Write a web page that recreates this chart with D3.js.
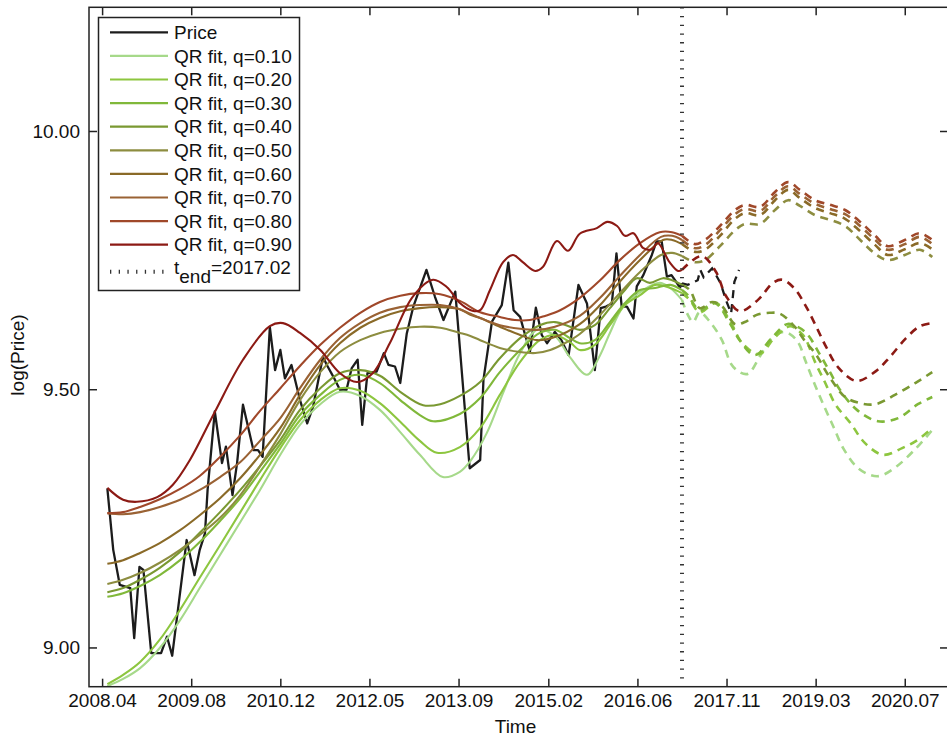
<!DOCTYPE html>
<html>
<head>
<meta charset="utf-8">
<script src="https://cdn.jsdelivr.net/npm/d3@7"></script>
<style>
  html, body { margin: 0; padding: 0; background: #fff; }
  svg { display: block; font-family: "Liberation Sans", Arial, Helvetica, sans-serif; }
</style>
</head>
<body>
<svg id="chart" width="947" height="740"></svg>
<script>
// ---- data (time in decimal years, values in log(Price)) ----
const tEnd = 2017.10;
const tEndLabel = "2017.02";

const xTickValues = [2008.25, 2009.61, 2010.97, 2012.33, 2013.69, 2015.06, 2016.42, 2017.78, 2019.14, 2020.50];
const xTickLabels = ["2008.04", "2009.08", "2010.12", "2012.05", "2013.09", "2015.02", "2016.06", "2017.11", "2019.03", "2020.07"];
const yTickValues = [9.00, 9.50, 10.00];

const priceSeries = [
  [2008.33,9.308],[2008.42,9.189],[2008.52,9.121],[2008.68,9.115],[2008.74,9.018],[2008.82,9.156],
  [2008.88,9.150],[2009.00,8.989],[2009.15,8.989],[2009.24,9.021],[2009.32,8.984],[2009.54,9.208],
  [2009.66,9.140],[2009.74,9.189],[2009.82,9.221],[2009.86,9.305],[2009.97,9.457],[2010.08,9.357],
  [2010.14,9.389],[2010.24,9.295],[2010.31,9.357],[2010.40,9.470],[2010.56,9.382],[2010.63,9.382],
  [2010.70,9.369],[2010.81,9.620],[2010.89,9.537],[2010.97,9.576],[2011.04,9.521],[2011.14,9.547],
  [2011.27,9.479],[2011.38,9.434],[2011.47,9.466],[2011.62,9.563],[2011.68,9.547],[2011.78,9.524],
  [2011.88,9.499],[2011.98,9.499],[2012.06,9.541],[2012.15,9.557],[2012.22,9.431],[2012.30,9.531],
  [2012.44,9.534],[2012.55,9.570],[2012.62,9.547],[2012.72,9.544],[2012.80,9.512],[2012.90,9.608],
  [2013.00,9.660],[2013.20,9.731],[2013.33,9.679],[2013.46,9.634],[2013.64,9.689],[2013.86,9.347],
  [2014.02,9.363],[2014.07,9.518],[2014.20,9.631],[2014.35,9.663],[2014.45,9.745],[2014.53,9.653],
  [2014.63,9.640],[2014.70,9.608],[2014.78,9.573],[2014.87,9.658],[2014.96,9.605],[2015.04,9.589],
  [2015.16,9.611],[2015.26,9.595],[2015.37,9.566],[2015.52,9.702],[2015.65,9.666],[2015.77,9.537],
  [2015.86,9.657],[2015.94,9.660],[2016.03,9.666],[2016.10,9.763],[2016.18,9.660],[2016.26,9.660],
  [2016.36,9.637],[2016.41,9.699],[2016.51,9.721],[2016.64,9.760],[2016.71,9.786],[2016.79,9.786],
  [2016.87,9.718],[2016.94,9.721],[2017.07,9.697],[2017.10,9.705],
  [2017.19,9.702],[2017.34,9.711],[2017.38,9.731],[2017.43,9.717],[2017.56,9.734],[2017.62,9.721],
  [2017.69,9.705],[2017.77,9.673],[2017.85,9.647],[2017.90,9.708],[2017.97,9.731]
];

const fitQ10 = [
  [2008.33,8.925],[2008.57,8.939],[2008.83,8.960],[2009.13,8.999],[2009.44,9.053],[2009.74,9.115],
  [2010.05,9.179],[2010.36,9.243],[2010.66,9.305],[2010.97,9.373],[2011.27,9.431],[2011.58,9.471],
  [2011.88,9.495],[2012.19,9.487],[2012.49,9.460],[2012.80,9.417],[2013.10,9.373],[2013.45,9.330],
  [2013.71,9.340],[2013.87,9.361],[2014.12,9.415],[2014.37,9.493],[2014.63,9.570],[2014.89,9.615],
  [2015.16,9.603],[2015.39,9.562],[2015.65,9.528],[2015.85,9.566],[2016.00,9.609],[2016.20,9.659],
  [2016.51,9.692],[2016.76,9.706],[2016.92,9.696],[2017.10,9.673],
  [2017.19,9.644],[2017.27,9.630],[2017.37,9.649],[2017.53,9.630],[2017.71,9.595],[2017.85,9.549],
  [2017.98,9.533],[2018.11,9.530],[2018.29,9.564],[2018.47,9.599],[2018.67,9.611],[2018.86,9.593],
  [2018.99,9.553],[2019.13,9.508],[2019.28,9.464],[2019.42,9.425],[2019.56,9.386],[2019.77,9.349],
  [2019.97,9.334],[2020.12,9.332],[2020.38,9.351],[2020.66,9.384],[2020.92,9.421]
];

const fitQ20 = [
  [2008.33,8.929],[2008.57,8.947],[2008.83,8.972],[2009.13,9.015],[2009.44,9.073],[2009.74,9.135],
  [2010.05,9.198],[2010.36,9.262],[2010.66,9.324],[2010.97,9.386],[2011.27,9.440],[2011.58,9.479],
  [2011.88,9.502],[2012.19,9.497],[2012.49,9.473],[2012.80,9.437],[2013.10,9.400],[2013.36,9.377],
  [2013.71,9.388],[2014.02,9.425],[2014.32,9.489],[2014.63,9.553],[2014.93,9.595],[2015.16,9.605],
  [2015.39,9.591],[2015.54,9.576],[2015.77,9.586],[2016.00,9.624],[2016.23,9.663],[2016.46,9.682],
  [2016.69,9.702],[2016.92,9.696],[2017.10,9.686],
  [2017.22,9.673],[2017.37,9.649],[2017.62,9.667],[2017.85,9.628],[2018.02,9.589],[2018.28,9.568],
  [2018.52,9.601],[2018.75,9.622],[2018.90,9.611],[2018.98,9.599],[2019.13,9.553],[2019.28,9.514],
  [2019.44,9.471],[2019.68,9.433],[2019.89,9.396],[2020.17,9.373],[2020.46,9.386],[2020.70,9.402],
  [2020.92,9.425]
];

const fitQ30 = [
  [2008.33,9.098],[2008.57,9.105],[2008.83,9.119],[2009.13,9.140],[2009.44,9.169],[2009.74,9.204],
  [2010.05,9.245],[2010.36,9.289],[2010.66,9.340],[2010.97,9.394],[2011.27,9.450],[2011.58,9.489],
  [2011.88,9.518],[2012.19,9.528],[2012.49,9.512],[2012.80,9.479],[2013.10,9.450],[2013.30,9.438],
  [2013.71,9.452],[2014.02,9.483],[2014.32,9.533],[2014.63,9.576],[2014.93,9.609],[2015.16,9.615],
  [2015.39,9.599],[2015.54,9.589],[2015.77,9.595],[2016.00,9.630],[2016.23,9.667],[2016.46,9.692],
  [2016.69,9.696],[2016.92,9.702],[2017.10,9.692],
  [2017.19,9.682],[2017.37,9.653],[2017.60,9.667],[2017.83,9.628],[2017.98,9.595],[2018.21,9.566],
  [2018.47,9.599],[2018.70,9.626],[2018.86,9.621],[2019.01,9.607],[2019.21,9.566],[2019.36,9.533],
  [2019.51,9.499],[2019.77,9.460],[2020.09,9.438],[2020.40,9.444],[2020.70,9.471],[2020.92,9.485]
];

const fitQ40 = [
  [2008.33,9.107],[2008.57,9.115],[2008.83,9.131],[2009.13,9.154],[2009.44,9.185],[2009.74,9.222],
  [2010.05,9.262],[2010.36,9.305],[2010.66,9.351],[2010.97,9.402],[2011.27,9.460],[2011.58,9.502],
  [2011.88,9.531],[2012.19,9.537],[2012.49,9.526],[2012.80,9.495],[2013.15,9.469],[2013.41,9.471],
  [2013.71,9.487],[2014.02,9.514],[2014.32,9.560],[2014.63,9.599],[2014.93,9.624],[2015.16,9.630],
  [2015.39,9.621],[2015.54,9.615],[2015.77,9.624],[2016.00,9.657],[2016.23,9.692],[2016.41,9.715],
  [2016.61,9.706],[2016.81,9.715],[2016.95,9.711],[2017.10,9.702],
  [2017.22,9.692],[2017.37,9.657],[2017.56,9.669],[2017.71,9.661],[2017.91,9.626],[2018.06,9.630],
  [2018.24,9.644],[2018.44,9.648],[2018.60,9.646],[2018.82,9.621],[2018.99,9.591],[2019.13,9.570],
  [2019.36,9.522],[2019.59,9.485],[2019.82,9.473],[2020.05,9.471],[2020.35,9.489],[2020.66,9.512],
  [2020.92,9.533]
];

const fitQ50 = [
  [2008.33,9.123],[2008.57,9.131],[2008.83,9.144],[2009.13,9.164],[2009.44,9.189],[2009.74,9.218],
  [2010.05,9.251],[2010.36,9.295],[2010.66,9.351],[2010.97,9.413],[2011.27,9.479],[2011.58,9.533],
  [2011.88,9.572],[2012.19,9.595],[2012.49,9.609],[2012.80,9.617],[2013.10,9.621],[2013.41,9.619],
  [2013.71,9.609],[2013.87,9.603],[2014.02,9.595],[2014.32,9.580],[2014.63,9.572],[2014.86,9.570],
  [2015.09,9.576],[2015.31,9.589],[2015.54,9.607],[2015.85,9.644],[2016.15,9.686],[2016.46,9.727],
  [2016.78,9.760],[2016.95,9.764],[2017.10,9.758],
  [2017.30,9.746],[2017.45,9.750],[2017.68,9.777],[2017.91,9.808],[2018.06,9.820],[2018.29,9.820],
  [2018.52,9.847],[2018.72,9.866],[2018.90,9.855],[2019.13,9.837],[2019.36,9.828],[2019.59,9.816],
  [2019.82,9.789],[2020.05,9.762],[2020.24,9.750],[2020.50,9.760],[2020.73,9.770],[2020.92,9.756]
];

const fitQ60 = [
  [2008.33,9.162],[2008.57,9.169],[2008.83,9.183],[2009.13,9.202],[2009.44,9.227],[2009.74,9.256],
  [2010.05,9.289],[2010.36,9.328],[2010.66,9.373],[2010.97,9.425],[2011.27,9.489],[2011.58,9.547],
  [2011.88,9.589],[2012.19,9.619],[2012.49,9.638],[2012.80,9.651],[2013.10,9.657],[2013.41,9.659],
  [2013.71,9.655],[2013.87,9.644],[2014.02,9.638],[2014.32,9.621],[2014.63,9.605],[2014.89,9.595],
  [2015.16,9.601],[2015.54,9.626],[2015.85,9.663],[2016.15,9.708],[2016.46,9.750],[2016.81,9.789],
  [2016.95,9.789],[2017.10,9.781],
  [2017.30,9.766],[2017.45,9.770],[2017.68,9.797],[2017.91,9.830],[2018.06,9.841],[2018.29,9.837],
  [2018.52,9.866],[2018.72,9.886],[2018.90,9.870],[2019.13,9.851],[2019.36,9.841],[2019.59,9.830],
  [2019.82,9.806],[2020.05,9.779],[2020.24,9.760],[2020.50,9.771],[2020.73,9.783],[2020.92,9.771]
];

const fitQ70 = [
  [2008.33,9.260],[2008.57,9.258],[2008.83,9.262],[2009.13,9.272],[2009.44,9.286],[2009.74,9.305],
  [2010.05,9.330],[2010.36,9.359],[2010.66,9.400],[2010.97,9.444],[2011.27,9.502],[2011.58,9.557],
  [2011.88,9.599],[2012.19,9.628],[2012.49,9.648],[2012.80,9.659],[2013.10,9.663],[2013.41,9.663],
  [2013.71,9.655],[2013.87,9.646],[2014.02,9.638],[2014.32,9.624],[2014.63,9.617],[2014.89,9.615],
  [2015.16,9.621],[2015.54,9.642],[2015.85,9.677],[2016.15,9.719],[2016.46,9.760],[2016.78,9.795],
  [2016.95,9.797],[2017.10,9.789],
  [2017.30,9.773],[2017.45,9.779],[2017.68,9.808],[2017.91,9.839],[2018.06,9.849],[2018.29,9.845],
  [2018.52,9.874],[2018.72,9.893],[2018.90,9.878],[2019.13,9.859],[2019.36,9.849],[2019.59,9.839],
  [2019.82,9.816],[2020.05,9.789],[2020.24,9.770],[2020.50,9.781],[2020.73,9.795],[2020.92,9.781]
];

const fitQ80 = [
  [2008.33,9.260],[2008.57,9.262],[2008.83,9.272],[2009.13,9.287],[2009.44,9.307],[2009.74,9.332],
  [2010.05,9.369],[2010.36,9.411],[2010.66,9.458],[2010.97,9.502],[2011.27,9.545],[2011.58,9.586],
  [2011.88,9.619],[2012.19,9.648],[2012.49,9.669],[2012.80,9.681],[2013.10,9.686],[2013.41,9.684],
  [2013.71,9.671],[2014.02,9.649],[2014.32,9.640],[2014.55,9.634],[2014.78,9.634],[2015.01,9.642],
  [2015.24,9.653],[2015.54,9.677],[2015.85,9.711],[2016.15,9.750],[2016.46,9.783],[2016.76,9.804],
  [2016.95,9.804],[2017.10,9.797],
  [2017.30,9.781],[2017.45,9.789],[2017.68,9.816],[2017.91,9.847],[2018.06,9.857],[2018.29,9.853],
  [2018.52,9.882],[2018.72,9.901],[2018.90,9.886],[2019.13,9.866],[2019.36,9.857],[2019.59,9.847],
  [2019.82,9.824],[2020.05,9.797],[2020.24,9.777],[2020.50,9.789],[2020.73,9.802],[2020.92,9.789]
];

const fitQ90 = [
  [2008.33,9.309],[2008.57,9.286],[2008.78,9.282],[2009.09,9.291],[2009.33,9.315],[2009.59,9.363],
  [2009.97,9.456],[2010.40,9.557],[2010.81,9.622],[2011.01,9.628],[2011.27,9.609],[2011.58,9.576],
  [2011.88,9.531],[2012.14,9.514],[2012.38,9.531],[2012.64,9.589],[2012.99,9.679],[2013.30,9.712],
  [2013.51,9.698],[2013.71,9.667],[2013.90,9.652],[2014.02,9.653],[2014.17,9.692],[2014.37,9.746],
  [2014.52,9.760],[2014.67,9.746],[2014.86,9.729],[2014.98,9.737],[2015.19,9.787],[2015.36,9.768],
  [2015.54,9.801],[2015.80,9.812],[2015.96,9.824],[2016.11,9.816],[2016.23,9.797],[2016.36,9.802],
  [2016.51,9.773],[2016.64,9.771],[2016.73,9.783],[2016.91,9.746],[2017.04,9.729],[2017.10,9.731],
  [2017.40,9.758],[2017.62,9.727],[2017.77,9.681],[2017.98,9.651],[2018.26,9.673],[2018.49,9.706],
  [2018.63,9.712],[2018.81,9.696],[2018.99,9.661],[2019.15,9.621],[2019.30,9.582],[2019.48,9.543],
  [2019.76,9.516],[2020.06,9.535],[2020.27,9.562],[2020.52,9.599],[2020.73,9.622],[2020.92,9.628]
];

const quantileLabels = ["0.10", "0.20", "0.30", "0.40", "0.50", "0.60", "0.70", "0.80", "0.90"];
const quantileFits = [fitQ10, fitQ20, fitQ30, fitQ40, fitQ50, fitQ60, fitQ70, fitQ80, fitQ90];

// ---- styles ----
const fitColors = ["#a6d98a", "#8dc63f", "#80b83a", "#7a9932", "#8d8d40", "#8a6a28", "#9a6234", "#a0482a", "#8c1a14"];
const priceColor = "#1c1c1c";
const axisColor = "#222";
const fontSize = 19;

// ---- layout ----
const svg = d3.select("#chart");
const plot = { left: 89, top: 7.3, right: 948, bottom: 686.7 };

const x = d3.scaleLinear().domain([2008.05, 2021.16]).range([plot.left, plot.right]);
const y = d3.scaleLinear().domain([8.924, 10.2395]).range([plot.bottom, plot.top]);

svg.append("defs").append("clipPath").attr("id", "plotClip")
  .append("rect")
  .attr("x", plot.left).attr("y", plot.top)
  .attr("width", plot.right - plot.left).attr("height", plot.bottom - plot.top);

const body = svg.append("g").attr("clip-path", "url(#plotClip)");

const lineSmooth = d3.line().x(d => x(d[0])).y(d => y(d[1])).curve(d3.curveCatmullRom.alpha(0.5));
const lineStraight = d3.line().x(d => x(d[0])).y(d => y(d[1]));

// observed price (solid up to t_end, dashed afterwards)
body.append("path")
  .attr("d", lineStraight(priceSeries.filter(d => d[0] <= tEnd)))
  .attr("fill", "none").attr("stroke", priceColor).attr("stroke-width", 2.3)
  .attr("stroke-linejoin", "round");
body.append("path")
  .attr("d", lineStraight(priceSeries.filter(d => d[0] >= tEnd)))
  .attr("fill", "none").attr("stroke", priceColor).attr("stroke-width", 2.3)
  .attr("stroke-dasharray", "8,6");

// quantile regression fits
quantileFits.forEach((fit, i) => {
  body.append("path")
    .attr("d", lineSmooth(fit.filter(d => d[0] <= tEnd)))
    .attr("fill", "none").attr("stroke", fitColors[i]).attr("stroke-width", 2.1)
    .attr("stroke-linejoin", "round");
  body.append("path")
    .attr("d", lineSmooth(fit.filter(d => d[0] >= tEnd)))
    .attr("fill", "none").attr("stroke", fitColors[i]).attr("stroke-width", 2.6)
    .attr("stroke-dasharray", "8,6");
});

// end of the fitting window
body.append("line")
  .attr("x1", x(tEnd)).attr("x2", x(tEnd))
  .attr("y1", plot.top).attr("y2", plot.bottom)
  .attr("stroke", "#333").attr("stroke-width", 4)
  .attr("stroke-dasharray", "1.3,7.4");

// ---- frame, ticks and labels ----
const frame = svg.append("g");
frame.append("rect")
  .attr("x", plot.left).attr("y", plot.top)
  .attr("width", plot.right - plot.left).attr("height", plot.bottom - plot.top)
  .attr("fill", "none").attr("stroke", axisColor).attr("stroke-width", 1.5);

const tickLen = 8;
const xAxisG = svg.append("g").attr("transform", `translate(0,${plot.bottom})`)
  .call(d3.axisBottom(x).tickValues(xTickValues).tickFormat((d, i) => xTickLabels[i])
    .tickSizeInner(-tickLen).tickSizeOuter(0).tickPadding(7));
const yAxisG = svg.append("g").attr("transform", `translate(${plot.left},0)`)
  .call(d3.axisLeft(y).tickValues(yTickValues).tickFormat(d3.format(".2f"))
    .tickSizeInner(-tickLen).tickSizeOuter(0).tickPadding(9));
const xTopG = svg.append("g").attr("transform", `translate(0,${plot.top})`)
  .call(d3.axisTop(x).tickValues(xTickValues).tickFormat("").tickSizeInner(-tickLen).tickSizeOuter(0));
const yRightG = svg.append("g").attr("transform", `translate(${plot.right},0)`)
  .call(d3.axisRight(y).tickValues(yTickValues).tickFormat("").tickSizeInner(-tickLen).tickSizeOuter(0));

[xAxisG, yAxisG, xTopG, yRightG].forEach(g => {
  g.select(".domain").remove();
  g.selectAll(".tick line").attr("stroke", axisColor).attr("stroke-width", 1.5);
  g.selectAll(".tick text").attr("fill", "#111").attr("font-size", fontSize)
    .attr("font-family", "'Liberation Sans', Arial, Helvetica, sans-serif");
});

svg.append("text")
  .attr("x", (plot.left + plot.right) / 2 - 3).attr("y", 733)
  .attr("text-anchor", "middle").attr("font-size", fontSize).attr("fill", "#111")
  .text("Time");
svg.append("text")
  .attr("transform", `translate(24,${(plot.top + plot.bottom) / 2 + 8}) rotate(-90)`)
  .attr("text-anchor", "middle").attr("font-size", fontSize).attr("fill", "#111")
  .text("log(Price)");

// ---- legend ----
const legend = svg.append("g");
legend.append("rect")
  .attr("x", 98.5).attr("y", 17.5).attr("width", 201).attr("height", 273)
  .attr("fill", "#fff").attr("stroke", axisColor).attr("stroke-width", 1.5);

const legendRows = [{ label: "Price", color: priceColor }]
  .concat(quantileLabels.map((q, i) => ({ label: "QR fit, q=" + q, color: fitColors[i] })));

legendRows.forEach((r, i) => {
  const yy = 32.3 + i * 23.6;
  legend.append("line")
    .attr("x1", 110).attr("x2", 168).attr("y1", yy).attr("y2", yy)
    .attr("stroke", r.color).attr("stroke-width", 2.2);
  legend.append("text")
    .attr("x", 174).attr("y", yy).attr("dy", "0.35em")
    .attr("font-size", fontSize).attr("fill", "#111")
    .text(r.label);
});

const yEnd = 271.7;
legend.append("line")
  .attr("x1", 110).attr("x2", 168).attr("y1", yEnd).attr("y2", yEnd)
  .attr("stroke", "#333").attr("stroke-width", 4).attr("stroke-dasharray", "1.3,7.4");
const tEndText = legend.append("text")
  .attr("x", 174).attr("y", yEnd - 4).attr("dy", "0.35em")
  .attr("font-size", fontSize).attr("fill", "#111");
tEndText.append("tspan").text("t");
tEndText.append("tspan").attr("dy", 9).text("end");
tEndText.append("tspan").attr("dy", -9).text("=" + tEndLabel);
</script>
</body>
</html>
